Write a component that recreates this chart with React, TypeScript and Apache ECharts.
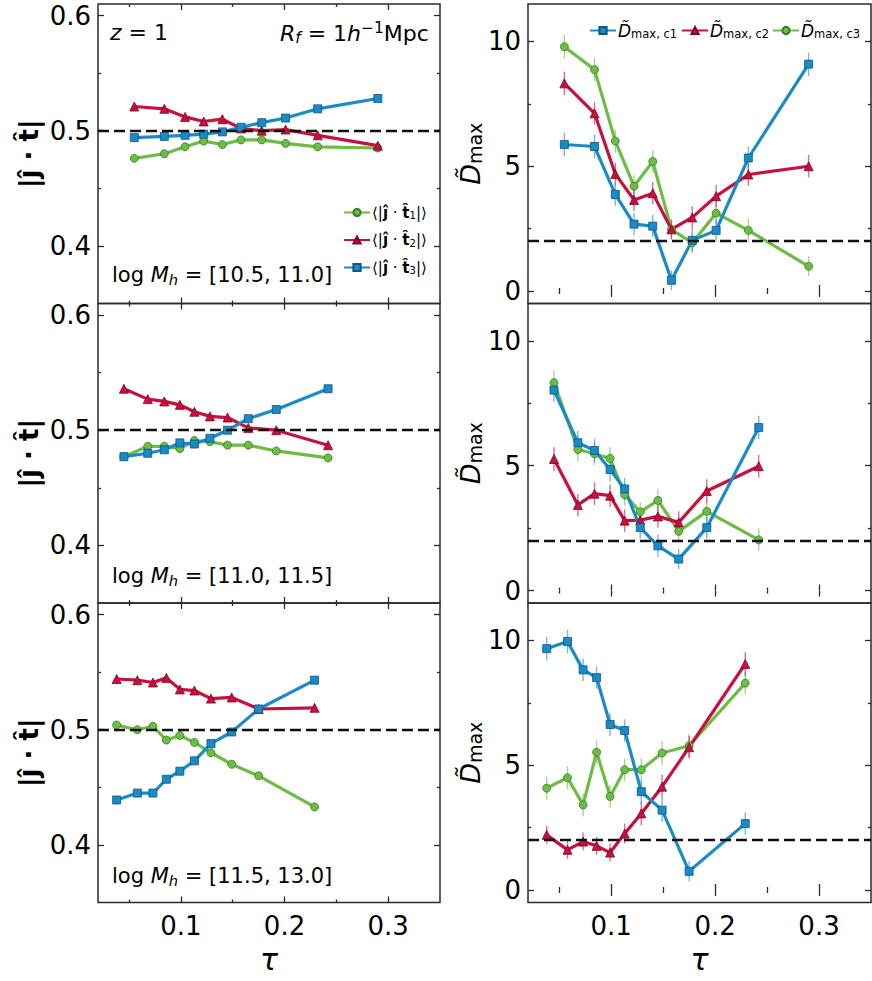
import React, { useEffect, useRef } from "react";
import * as echarts from "echarts";

// ---------- data ----------
const tauA = [0.055, 0.084, 0.104, 0.122, 0.14, 0.158, 0.178, 0.201, 0.232, 0.29];
const tauB = [0.045, 0.068, 0.084, 0.099, 0.113, 0.128, 0.145, 0.165, 0.192, 0.242];
const tauC = [0.038, 0.058, 0.073, 0.086, 0.099, 0.113, 0.129, 0.149, 0.175, 0.229];

const t1A = [0.476, 0.48, 0.486, 0.491, 0.488, 0.492, 0.492, 0.489, 0.486, 0.485];
const t2A = [0.521, 0.519, 0.512, 0.508, 0.51, 0.502, 0.5, 0.501, 0.496, 0.487];
const t3A = [0.494, 0.495, 0.496, 0.497, 0.499, 0.503, 0.507, 0.511, 0.519, 0.528];

const t1B = [0.477, 0.486, 0.486, 0.484, 0.491, 0.49, 0.487, 0.487, 0.482, 0.476];
const t2B = [0.536, 0.527, 0.525, 0.522, 0.516, 0.512, 0.511, 0.502, 0.5, 0.487];
const t3B = [0.477, 0.48, 0.483, 0.489, 0.488, 0.493, 0.5, 0.51, 0.518, 0.536];

const t1C = [0.504, 0.5, 0.503, 0.491, 0.495, 0.489, 0.48, 0.47, 0.46, 0.433];
const t2C = [0.544, 0.543, 0.541, 0.545, 0.535, 0.534, 0.527, 0.528, 0.518, 0.519];
const t3C = [0.439, 0.445, 0.445, 0.457, 0.464, 0.473, 0.488, 0.498, 0.518, 0.543];

const c1A = [5.87, 5.79, 3.87, 2.68, 2.6, 0.43, 2.03, 2.43, 5.33, 9.09];
const c2A = [8.32, 7.12, 4.69, 3.65, 3.92, 2.47, 2.95, 3.8, 4.67, 5.0];
const c3A = [9.79, 8.87, 6.01, 4.2, 5.19, 2.47, 1.93, 3.12, 2.43, 0.99];

const c1B = [8.03, 5.92, 5.61, 4.85, 4.07, 2.52, 1.79, 1.26, 2.52, 6.53];
const c2B = [5.27, 3.43, 3.88, 3.8, 2.8, 2.82, 2.97, 2.73, 3.99, 4.98];
const c3B = [8.33, 5.65, 5.48, 5.29, 3.84, 3.15, 3.61, 2.37, 3.17, 2.03];

const c1C = [9.67, 9.96, 8.82, 8.51, 6.63, 6.39, 3.94, 3.2, 0.75, 2.66];
const c2C = [2.21, 1.61, 1.94, 1.77, 1.5, 2.26, 3.07, 4.14, 5.72, 9.06];
const c3C = [4.08, 4.5, 3.41, 5.52, 3.75, 4.82, 4.82, 5.49, 5.78, 8.29];

const e1A = [0.47, 0.47, 0.45, 0.45, 0.45, 0.4, 0.45, 0.45, 0.47, 0.47];
const e2A = [0.47, 0.45, 0.45, 0.45, 0.45, 0.4, 0.45, 0.45, 0.45, 0.45];
const e3A = [0.47, 0.47, 0.47, 0.45, 0.45, 0.4, 0.4, 0.45, 0.45, 0.4];
const e1B = [0.47, 0.47, 0.47, 0.47, 0.45, 0.45, 0.45, 0.4, 0.45, 0.47];
const e2B = [0.47, 0.45, 0.45, 0.45, 0.45, 0.4, 0.45, 0.45, 0.47, 0.45];
const e3B = [0.47, 0.45, 0.45, 0.45, 0.45, 0.4, 0.45, 0.4, 0.45, 0.45];
const e1C = [0.47, 0.47, 0.45, 0.45, 0.45, 0.45, 0.47, 0.47, 0.4, 0.45];
const e2C = [0.36, 0.36, 0.36, 0.36, 0.36, 0.4, 0.47, 0.47, 0.45, 0.47];
const e3C = [0.47, 0.47, 0.45, 0.47, 0.45, 0.45, 0.45, 0.47, 0.47, 0.45];

const massBins = ["[10.5, 11.0]", "[11.0, 11.5]", "[11.5, 13.0]"];
const xMajor = [0.1, 0.2, 0.3];
const xMinor = [0.05, 0.15, 0.25];
const yMajorL = [0.4, 0.5, 0.6];
const yMinorL = [0.45, 0.55];
const yMajorR = [0, 5, 10];
const yMinorR = [2.5, 7.5];

// ---------- styles ----------
const FONT = "DejaVu Sans";
const GREEN = "#6cbd45";
const GREEN_EDGE = "#3a7a20";
const RED = "#c8103e";
const RED_EDGE = "#7a0822";
const BLUE = "#1a8bc7";
const BLUE_EDGE = "#0c5680";
const AX = "#2a2a2a";

const LEFT_X = 98;
const RIGHT_X = 528;
const LEFT_W = 342;
const RIGHT_W = 343;
const TOPS = [4, 303.5, 603];
const H = 299.5;

export default function App() {
  const ref = useRef<HTMLDivElement>(null);

  useEffect(() => {
    if (!ref.current) return;
    const chart = echarts.init(ref.current, undefined, { renderer: "svg" });

    const panels = [
      { tau: tauA, t: [t1A, t2A, t3A], c: [c1A, c2A, c3A], e: [e1A, e2A, e3A] },
      { tau: tauB, t: [t1B, t2B, t3B], c: [c1B, c2B, c3B], e: [e1B, e2B, e3B] },
      { tau: tauC, t: [t1C, t2C, t3C], c: [c1C, c2C, c3C], e: [e1C, e2C, e3C] },
    ];

    const grids: any[] = [];
    const xAxes: any[] = [];
    const yAxes: any[] = [];
    const series: any[] = [];

    const tickAxis = (base: any, vals: number[], len: number, label: any) => ({
      ...base,
      axisLine: { show: false },
      splitLine: { show: false },
      axisTick: {
        show: true,
        inside: true,
        length: len,
        customValues: vals,
        lineStyle: { color: AX, width: 1.3 },
      },
      axisLabel: label,
    });

    const noLabel = { show: false };

    for (let col = 0; col < 2; col++) {
      for (let row = 0; row < 3; row++) {
        const g = grids.length;
        grids.push({
          left: col === 0 ? LEFT_X : RIGHT_X,
          top: TOPS[row],
          width: col === 0 ? LEFT_W : RIGHT_W,
          height: H,
          show: true,
          borderColor: AX,
          borderWidth: 1.5,
          backgroundColor: "transparent",
        });
        const xBase = { type: "value", gridIndex: g, min: 0.02, max: 0.35 };
        const bottomRow = row === 2;
        const xLab = bottomRow
          ? {
              show: true,
              customValues: xMajor,
              fontFamily: FONT,
              fontSize: 26,
              color: "#000",
              margin: 10,
              formatter: (v: number) => String(v),
            }
          : noLabel;
        const xMain: any = tickAxis({ ...xBase, position: "bottom" }, xMajor, 6, xLab);
        if (bottomRow) {
          xMain.name = "τ";
          xMain.nameLocation = "middle";
          xMain.nameGap = 42;
          xMain.nameTextStyle = {
            fontFamily: FONT,
            fontStyle: "italic",
            fontSize: 30,
            color: "#000",
          };
        }
        xAxes.push(xMain);
        xAxes.push(tickAxis({ ...xBase, position: "bottom" }, xMinor, 3, noLabel));
        xAxes.push(tickAxis({ ...xBase, position: "top" }, xMajor, 6, noLabel));
        xAxes.push(tickAxis({ ...xBase, position: "top" }, xMinor, 3, noLabel));

        const isLeft = col === 0;
        const yBase = isLeft
          ? { type: "value", gridIndex: g, min: 0.35, max: 0.61 }
          : { type: "value", gridIndex: g, min: -0.5, max: 11.5 };
        const maj = isLeft ? yMajorL : yMajorR;
        const min = isLeft ? yMinorL : yMinorR;
        const yMain: any = tickAxis({ ...yBase, position: "left" }, maj, 6, {
          show: true,
          customValues: maj,
          fontFamily: FONT,
          fontSize: 26,
          color: "#000",
          margin: 7,
          formatter: (v: number) => String(v),
        });
        yMain.nameLocation = "middle";
        if (isLeft) {
          yMain.name = "|ĵ · t̂|";
          yMain.nameGap = 56;
          yMain.nameTextStyle = {
            fontFamily: FONT,
            fontWeight: "bold",
            fontSize: 26,
            color: "#000",
          };
        } else {
          yMain.name = "{d|D̃}{s|max}";
          yMain.nameGap = 44;
          yMain.nameTextStyle = {
            color: "#000",
            rich: {
              d: { fontFamily: FONT, fontStyle: "italic", fontSize: 27, color: "#000" },
              s: {
                fontFamily: FONT,
                fontSize: 19,
                color: "#000",
                verticalAlign: "bottom",
                padding: [8, 0, 0, 0],
              },
            },
          };
        }
        yAxes.push(yMain);
        yAxes.push(tickAxis({ ...yBase, position: "left" }, min, 3, noLabel));
        yAxes.push(tickAxis({ ...yBase, position: "right" }, maj, 6, noLabel));
        yAxes.push(tickAxis({ ...yBase, position: "right" }, min, 3, noLabel));

        const ai = g * 4;
        const p = panels[row];
        const refLine = {
          silent: true,
          symbol: ["none", "none"],
          label: { show: false },
          lineStyle: { color: "#111", type: [11, 5], width: 2.4 },
          data: [{ yAxis: isLeft ? 0.5 : 2 }],
        };

        const specs = isLeft
          ? [
              { name: "t1", vals: p.t[0], col: GREEN, edge: GREEN_EDGE, sym: "circle", size: 8 },
              { name: "t2", vals: p.t[1], col: RED, edge: RED_EDGE, sym: "triangle", size: 9 },
              { name: "t3", vals: p.t[2], col: BLUE, edge: BLUE_EDGE, sym: "rect", size: 8 },
            ]
          : [
              { name: "c3", vals: p.c[2], err: p.e[2], col: GREEN, edge: GREEN_EDGE, sym: "circle", size: 8 },
              { name: "c2", vals: p.c[1], err: p.e[1], col: RED, edge: RED_EDGE, sym: "triangle", size: 9 },
              { name: "c1", vals: p.c[0], err: p.e[0], col: BLUE, edge: BLUE_EDGE, sym: "rect", size: 8 },
            ];

        if (!isLeft) {
          specs.forEach((s: any) => {
            series.push({
              type: "custom",
              name: s.name + "_err",
              xAxisIndex: ai,
              yAxisIndex: ai,
              silent: true,
              z: 1,
              encode: { x: 0, y: 1 },
              data: p.tau.map((t, i) => [t, s.vals[i], s.err[i]]),
              renderItem: (params: any, api: any) => {
                const x = api.value(0);
                const y = api.value(1);
                const e = api.value(2);
                const a = api.coord([x, y - e]);
                const b = api.coord([x, y + e]);
                return {
                  type: "line",
                  shape: { x1: a[0], y1: a[1], x2: b[0], y2: b[1] },
                  style: { stroke: s.col, lineWidth: 1.4, opacity: 0.6 },
                };
              },
            });
          });
        }

        specs.forEach((s: any, k: number) => {
          series.push({
            type: "line",
            name: s.name,
            xAxisIndex: ai,
            yAxisIndex: ai,
            z: 3,
            data: p.tau.map((t, i) => [t, s.vals[i]]),
            symbol: s.sym,
            symbolSize: s.size,
            showSymbol: true,
            lineStyle: { color: s.col, width: 3.2 },
            itemStyle: { color: s.col, borderColor: s.edge, borderWidth: 0.8 },
            markLine: k === 0 ? refLine : undefined,
          });
        });
      }
    }

    const txt = (x: number, y: number, text: string, rich: any) => ({
      type: "text",
      x,
      y,
      z: 10,
      style: {
        text,
        rich,
        fill: "#000",
        align: "left",
        verticalAlign: "middle",
        fontFamily: FONT,
        fontSize: 21,
      },
    });

    const baseRich = (fs: number) => ({
      n: { fontFamily: FONT, fontSize: fs, fill: "#000" },
      i: { fontFamily: FONT, fontSize: fs, fontStyle: "italic", fill: "#000" },
      sub: {
        fontFamily: FONT,
        fontSize: fs * 0.7,
        fontStyle: "italic",
        fill: "#000",
        verticalAlign: "bottom",
        padding: [fs * 0.45, 0, 0, 0],
      },
      sup: {
        fontFamily: FONT,
        fontSize: fs * 0.7,
        fill: "#000",
        verticalAlign: "top",
        padding: [0, 0, fs * 0.45, 0],
      },
    });

    const graphics: any[] = [
      txt(110, 32, "{i|z}{n| = 1}", baseRich(22)),
      txt(280, 33, "{i|R}{sub|f}{n| = 1}{i|h}{sup|−1}{n|Mpc}", baseRich(22)),
    ];
    const massY = [275, 576, 876];
    massBins.forEach((m, r) => {
      graphics.push(txt(112, massY[r], `{n|log }{i|M}{sub|h}{n| = ${m}}`, baseRich(21)));
    });

    const legendLeftFmt = (name: string) => {
      const idx = name.slice(1);
      return `{a|⟨|}{b|ĵ}{a| · }{b|t̂}{s|${idx}}{a||⟩}`;
    };
    const legendRightFmt = (name: string) => {
      const idx = name.slice(1);
      return `{d|D̃}{s|max, c${idx}}`;
    };

    const rightLegendText = {
      padding: [0, 0, 0, -3],
      rich: {
        d: { fontFamily: FONT, fontSize: 17, fontStyle: "italic", color: "#000" },
        s: {
          fontFamily: FONT,
          fontSize: 11.5,
          color: "#000",
          verticalAlign: "bottom",
          padding: [7, 0, 0, 0],
        },
      },
    };
    const rightLegend = (name: string, left: number) => ({
      data: [name],
      orient: "horizontal",
      left,
      top: 22,
      itemWidth: 26,
      itemHeight: 9,
      padding: 0,
      formatter: legendRightFmt,
      selectedMode: false,
      textStyle: rightLegendText,
    });

    chart.setOption({
      animation: false,
      grid: grids,
      xAxis: xAxes,
      yAxis: yAxes,
      series,
      graphic: graphics,
      legend: [
        {
          data: ["t1", "t2", "t3"],
          orient: "vertical",
          left: 343,
          top: 205,
          itemWidth: 26,
          itemHeight: 9,
          itemGap: 12,
          padding: 0,
          formatter: legendLeftFmt,
          selectedMode: false,
          textStyle: {
            padding: [0, 0, 0, -3],
            rich: {
              a: { fontFamily: FONT, fontSize: 15, color: "#000" },
              b: { fontFamily: FONT, fontSize: 15, fontWeight: "bold", color: "#000" },
              s: {
                fontFamily: FONT,
                fontSize: 10,
                color: "#000",
                verticalAlign: "bottom",
                padding: [6, 0, 0, 0],
              },
            },
          },
        },
        rightLegend("c1", 589),
        rightLegend("c2", 681),
        rightLegend("c3", 772),
      ],
    });

    return () => chart.dispose();
  }, []);

  return (
    <div
      ref={ref}
      style={{ position: "absolute", left: 0, top: 0, width: 872, height: 981, background: "#fff" }}
    />
  );
}
